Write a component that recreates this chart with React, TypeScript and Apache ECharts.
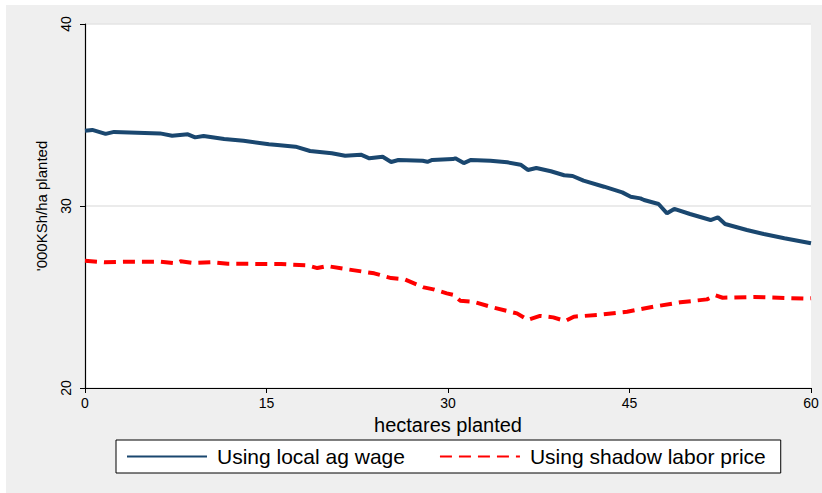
import React, { useEffect, useRef } from "react";
import * as echarts from "echarts";

// Net returns per hectare planted under two labour-cost assumptions
const localWageHa = [
  0, 0.6, 1.7, 2.4, 6.2, 7.2, 8.5, 9.1, 9.8, 11.5, 13.1, 15.2, 15.9, 17.4, 18.6,
  20.4, 21.5, 22.8, 23.5, 24.6, 25.3, 25.9, 27.9, 28.3, 28.7, 30.4, 30.6, 31.3,
  31.9, 33.5, 34.9, 36.0, 36.6, 37.3, 38.5, 39.6, 40.3, 41.2, 42.9, 44.4, 45.1,
  45.9, 46.2, 47.4, 48.1, 48.7, 50.0, 51.7, 52.3, 52.9, 54.7, 56.1, 57.8, 60,
];
const localWageVal = [
  34.14, 34.18, 33.96, 34.07, 33.99, 33.86, 33.94, 33.77, 33.85, 33.68, 33.59,
  33.39, 33.35, 33.26, 33.02, 32.9, 32.76, 32.82, 32.62, 32.71, 32.42, 32.53,
  32.49, 32.43, 32.53, 32.58, 32.62, 32.36, 32.53, 32.49, 32.4, 32.27, 31.98,
  32.09, 31.91, 31.69, 31.65, 31.39, 31.06, 30.75, 30.51, 30.42, 30.33, 30.11,
  29.6, 29.84, 29.56, 29.23, 29.38, 29.01, 28.68, 28.46, 28.23, 27.95,
];

const shadowHa = [
  0, 1.6, 3.8, 6.2, 7.5, 7.9, 9.0, 10.4, 11.8, 16.2, 18.4, 19.2, 20.0, 21.7,
  23.9, 25.3, 26.4, 28.0, 28.8, 29.9, 30.5, 31.0, 32.1, 33.8, 35.7, 36.6, 37.6,
  38.7, 39.7, 40.4, 42.3, 44.8, 47.0, 49.2, 51.4, 52.1, 52.7, 55.3, 59.7, 60,
];
const shadowVal = [
  26.99, 26.91, 26.94, 26.94, 26.85, 26.96, 26.87, 26.91, 26.83, 26.81, 26.74,
  26.59, 26.7, 26.52, 26.3, 26.04, 25.97, 25.53, 25.42, 25.2, 25.11, 24.8,
  24.74, 24.41, 24.1, 23.74, 23.96, 23.88, 23.68, 23.92, 24.01, 24.19, 24.47,
  24.71, 24.87, 25.09, 24.96, 25.0, 24.91, 24.93,
];

const xTicks = { min: 0, max: 60, interval: 15 };
const yTicks = { min: 20, max: 40, interval: 10 };

const seriesNames = ["Using local ag wage", "Using shadow labor price"];

const FONT = "'Liberation Sans', Arial, sans-serif";

export default function App() {
  const ref = useRef<HTMLDivElement>(null);

  useEffect(() => {
    if (!ref.current) return;
    const chart = echarts.init(ref.current, null, { renderer: "svg" });
    const zip = (xs: number[], ys: number[]) => xs.map((x, i) => [x, ys[i]]);

    chart.setOption({
      animation: false,
      textStyle: { fontFamily: FONT },
      graphic: [
        {
          type: "rect",
          silent: true,
          z: -10,
          shape: { x: 6, y: 5, width: 816, height: 488 },
          style: { fill: "#efefef" },
        },
      ],
      grid: {
        left: 85,
        top: 24,
        width: 726,
        height: 364,
        show: true,
        backgroundColor: "#ffffff",
        borderWidth: 0,
      },
      legend: {
        data: seriesNames,
        left: 116,
        top: 440,
        orient: "horizontal",
        backgroundColor: "#ffffff",
        borderColor: "#000000",
        borderWidth: 1,
        borderRadius: 0,
        padding: [6, 15, 6, 10],
        itemWidth: 80,
        itemHeight: 14,
        itemGap: 34,
        itemStyle: { opacity: 0 },
        textStyle: {
          fontFamily: FONT,
          fontSize: 21,
          color: "#000",
          padding: [0, 0, 0, 5],
        },
      },
      xAxis: {
        type: "value",
        ...xTicks,
        name: "hectares planted",
        nameLocation: "middle",
        nameGap: 23,
        nameTextStyle: { fontSize: 20, color: "#000", fontFamily: FONT },
        axisLine: { show: true, lineStyle: { color: "#000", width: 1.2 } },
        axisTick: { show: true, length: 5, lineStyle: { color: "#000" } },
        axisLabel: { fontSize: 14, color: "#000", margin: 8, fontFamily: FONT },
        splitLine: { show: false },
      },
      yAxis: {
        type: "value",
        ...yTicks,
        name: "'000KSh/ha planted",
        nameLocation: "middle",
        nameRotate: 90,
        nameGap: 36,
        nameTextStyle: { fontSize: 15, color: "#000", fontFamily: FONT },
        axisLine: { show: true, lineStyle: { color: "#000", width: 1.2 } },
        axisTick: { show: true, length: 5, lineStyle: { color: "#000" } },
        axisLabel: {
          fontSize: 14,
          color: "#000",
          rotate: 90,
          margin: 12,
          fontFamily: FONT,
        },
        splitLine: { show: true, lineStyle: { color: "#e4e4e4", width: 1.5 } },
      },
      series: [
        {
          name: seriesNames[0],
          type: "line",
          symbol: "none",
          data: zip(localWageHa, localWageVal),
          lineStyle: { color: "#1a476f", width: 4 },
          itemStyle: { color: "#1a476f" },
        },
        {
          name: seriesNames[1],
          type: "line",
          symbol: "none",
          data: zip(shadowHa, shadowVal),
          lineStyle: { color: "#ff0000", width: 4, type: [12, 7] },
          itemStyle: { color: "#ff0000" },
        },
      ],
    });

    return () => chart.dispose();
  }, []);

  return (
    <div
      ref={ref}
      style={{
        position: "absolute",
        left: 0,
        top: 0,
        width: 822,
        height: 493,
        background: "#ffffff",
      }}
    />
  );
}
